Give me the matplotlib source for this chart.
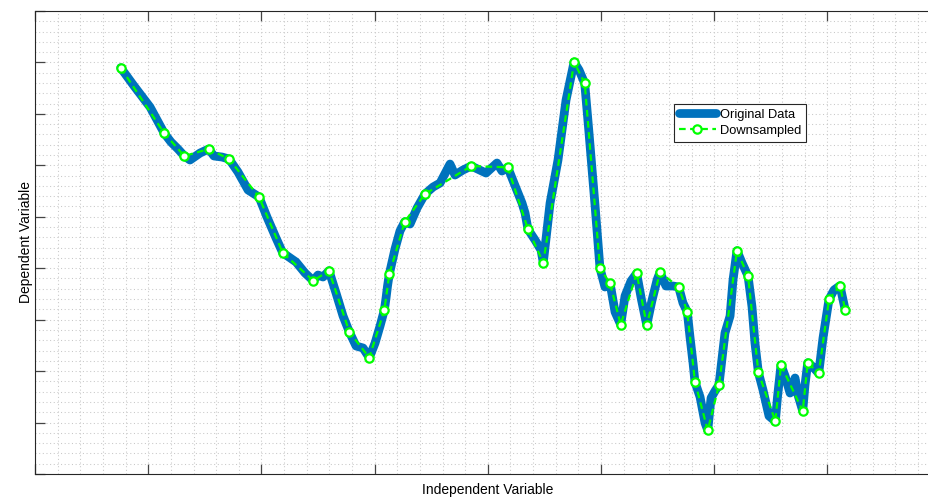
import numpy as np
import matplotlib
matplotlib.use("Agg")
import matplotlib.pyplot as plt

plt.rcParams['font.family'] = ['Liberation Sans', 'DejaVu Sans']

# original signal (irregular x spacing)
x_orig = [7.57, 8.75, 10.16, 11.42, 12.01, 12.63, 13.19, 13.69, 14.58, 15.34,
          15.81, 16.52, 17.14, 17.93, 18.82, 19.79, 20.49, 21.29, 21.88, 23.06,
          23.85, 24.58, 25.00, 25.44, 25.97, 26.59, 27.21, 27.77, 28.36, 28.98,
          29.53, 30.04, 30.48, 30.86, 31.01, 31.14, 31.30, 31.80, 32.24, 32.66,
          33.13, 33.75, 34.45, 35.16, 35.78, 36.66, 37.10, 37.81, 38.54, 39.84,
          40.81, 41.25, 41.76, 42.31, 43.02, 43.29, 43.55, 44.17, 44.70, 44.90,
          45.50, 46.20, 46.91, 47.62, 48.06, 48.56, 48.94, 49.47, 49.91, 50.35,
          50.80, 51.24, 51.74, 52.12, 52.65, 53.15, 53.58, 54.04, 54.51, 54.95,
          55.21, 55.74, 56.36, 56.86, 57.24, 57.62, 57.86, 58.13, 58.30, 58.75,
          59.19, 59.43, 59.72, 60.07, 60.42, 60.95, 61.40, 61.66, 62.01, 62.46,
          62.99, 63.34, 63.60, 63.90, 64.31, 64.84, 65.40, 65.59, 65.90, 66.26,
          66.70, 67.14, 67.40, 67.82, 68.02, 68.26, 68.64, 69.23, 69.61, 70.14,
          70.58, 71.11, 71.58]
y_orig = [78.97, 75.41, 71.33, 66.22, 64.53, 63.17, 61.81, 61.03, 62.39, 63.17,
          61.81, 61.61, 61.22, 58.70, 55.20, 53.84, 49.95, 45.87, 43.01, 41.20,
          39.07, 37.57, 38.68, 38.29, 39.51, 35.18, 30.71, 27.60, 24.88, 24.49,
          22.60, 25.46, 28.77, 31.88, 34.21, 36.54, 38.87, 43.73, 47.23, 49.04,
          48.59, 51.70, 54.42, 55.78, 56.56, 60.25, 58.11, 59.09, 59.86, 58.50,
          60.45, 58.89, 59.61, 56.56, 52.67, 50.73, 47.56, 45.48, 43.54, 41.07,
          52.67, 61.03, 72.69, 80.08, 78.52, 75.94, 66.28, 52.28, 39.98, 36.35,
          37.06, 31.49, 29.02, 34.60, 37.51, 39.01, 33.82, 28.96, 33.82, 37.71,
          39.20, 36.54, 36.54, 36.35, 33.24, 31.54, 26.63, 21.57, 17.88, 14.97,
          9.91, 8.49, 14.77, 16.13, 17.30, 27.40, 30.71, 37.71, 43.40, 41.01,
          38.48, 32.46, 25.46, 19.77, 16.33, 11.27, 10.24, 14.97, 21.19, 19.05,
          15.74, 18.66, 15.35, 12.24, 17.30, 21.63, 20.99, 19.57, 26.43, 33.95,
          35.76, 36.60, 31.82]

# samples kept by the downsampler
ds_idx = [0, 3, 6, 9, 12, 15, 18, 21, 24, 27, 30, 33, 36, 39, 42, 48, 52, 56,
          59, 63, 65, 68, 70, 72, 75, 77, 80, 83, 85, 88, 91, 94, 98, 100, 103,
          106, 108, 113, 115, 117, 119, 121, 122]

x_orig = np.array(x_orig)
y_orig = np.array(y_orig)
x_ds = x_orig[ds_idx]
y_ds = y_orig[ds_idx]

fig = plt.figure(figsize=(9.29, 4.97), dpi=100)
ax = fig.add_axes([0.0377, 0.0463, 0.9748, 0.9316])

ax.plot(x_orig, y_orig, color='#0072BD', linewidth=6.3, solid_joinstyle='round',
        solid_capstyle='round', label='Original Data', zorder=3)
ln, = ax.plot(x_ds, y_ds, color='#00FF00', linewidth=1.6, linestyle='--',
              marker='o', markersize=6, markerfacecolor='white',
              markeredgecolor='#00FF00', markeredgewidth=1.6,
              label='Downsampled', zorder=4)
ln.set_dashes([3, 2])

ax.set_xlim(0, 80)
ax.set_ylim(0, 90)
ax.set_xticks(np.arange(0, 81, 10))
ax.set_yticks(np.arange(0, 91, 10))
ax.set_xticks(np.arange(0, 81, 2), minor=True)
ax.set_yticks(np.arange(0, 91, 2), minor=True)
ax.set_xticklabels([])
ax.set_yticklabels([])
ax.tick_params(which='major', direction='in', length=7, width=0.9,
               color='#444444', top=True, right=True)
ax.tick_params(which='minor', length=0)

ax.grid(which='both', linestyle=(0, (1, 2.5)), color='#c8c8c8', linewidth=0.75)
ax.set_axisbelow(True)

for s in ax.spines.values():
    s.set_color('#262626')
    s.set_linewidth(0.8)

ax.set_xlabel('Independent Variable', fontsize=10, labelpad=3)
ax.set_ylabel('Dependent Variable', fontsize=10, labelpad=-2)

leg = ax.legend(loc='upper left', bbox_to_anchor=(0.7056, 0.7985),
                borderaxespad=0, fontsize=9.3, handlelength=2.9,
                handletextpad=0.3, labelspacing=0.32, borderpad=0.35,
                fancybox=False, framealpha=1, edgecolor='#262626')
leg.get_frame().set_linewidth(0.8)

fig.savefig('out.png', dpi=100)
